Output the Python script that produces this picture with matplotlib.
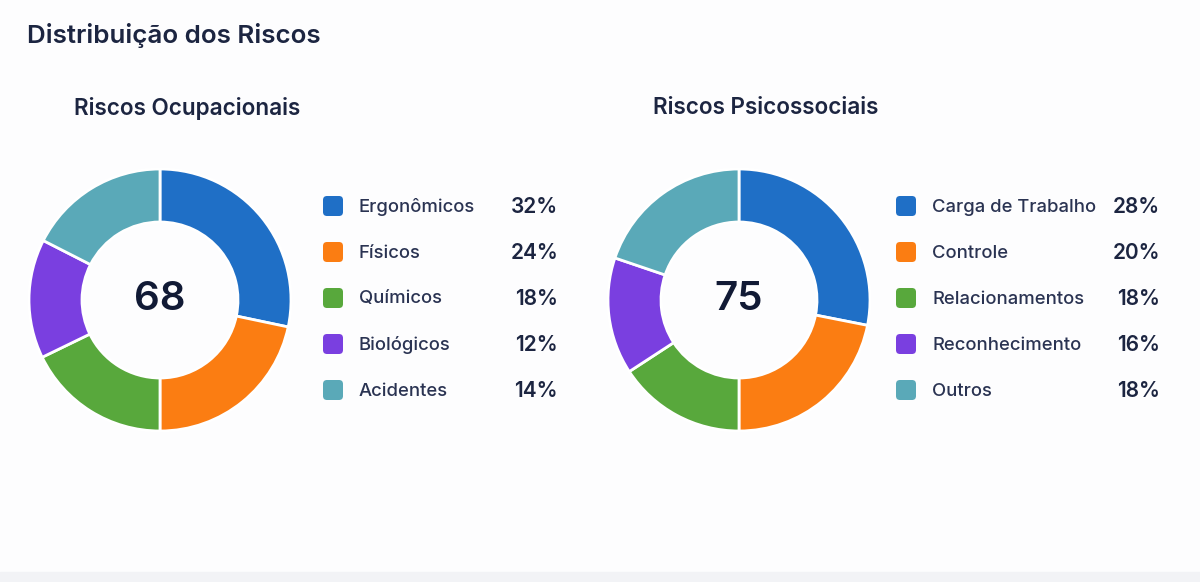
import matplotlib
matplotlib.use("Agg")
import matplotlib.pyplot as plt
from matplotlib.patches import FancyBboxPatch, Rectangle

plt.rcParams['font.family'] = ['Inter', 'DejaVu Sans']

# dados
titulo = "Distribuição dos Riscos"

ocup_titulo = "Riscos Ocupacionais"
ocup_total = 68
ocup_cats = ["Ergonômicos", "Físicos", "Químicos", "Biológicos", "Acidentes"]
ocup_pct = [32, 24, 18, 12, 14]
# tamanho das fatias como aparecem no desenho
ocup_fatias = [28.3, 21.7, 17.8, 14.7, 17.5]

psico_titulo = "Riscos Psicossociais"
psico_total = 75
psico_cats = ["Carga de Trabalho", "Controle", "Relacionamentos", "Reconhecimento", "Outros"]
psico_pct = [28, 20, 18, 16, 18]
psico_fatias = [28.1, 21.9, 15.8, 14.4, 19.8]

cores = ["#1f6fc6", "#fb7d12", "#58a83c", "#7a3fe0", "#5aa9b8"]
texto = "#1c2541"

W, H = 1200, 582

fig = plt.figure(figsize=(12, 5.82), dpi=100)
fig.patch.set_facecolor("#fdfdfe")
ax = fig.add_axes([0, 0, 1, 1])
ax.set_xlim(0, W)
ax.set_ylim(0, H)
ax.set_aspect("equal")
ax.axis("off")

# faixa cinza no rodape (sombra do cartao)
ax.add_patch(Rectangle((0, 0), W, 10, color="#f2f3f6", zorder=0))

ax.text(27, H - 36, titulo, fontsize=18.7, fontweight="semibold", color=texto,
        ha="left", va="center")


def painel(cx, titulo_p, total, cats, pct, fatias, leg_x, pct_x):
    cy = H - 300
    ax.text(cx + 27, H - 108, titulo_p, fontsize=16.2, fontweight="semibold",
            color=texto, ha="center", va="center")
    ax.pie(fatias, colors=cores, startangle=90, counterclock=False,
           center=(cx, cy), radius=131, frame=True,
           wedgeprops=dict(width=53, edgecolor="white", linewidth=2))
    ax.text(cx, cy, str(total), fontsize=29, fontweight="semibold",
            color="#111a35", ha="center", va="center")
    for i, (c, p) in enumerate(zip(cats, pct)):
        y = H - (206 + 46 * i)
        ax.add_patch(FancyBboxPatch((leg_x - 8, y - 8), 16, 16,
                                    boxstyle="round,pad=2,rounding_size=4",
                                    facecolor=cores[i], edgecolor="none"))
        ax.text(leg_x + 26, y - 1, c, fontsize=13.3, fontweight="medium",
                color="#2a3352", ha="left", va="center")
        ax.text(pct_x, y - 1, f"{p}%", fontsize=15, fontweight="semibold",
                color=texto, ha="right", va="center")


painel(160, ocup_titulo, ocup_total, ocup_cats, ocup_pct, ocup_fatias, 333, 558)
painel(739, psico_titulo, psico_total, psico_cats, psico_pct, psico_fatias, 906, 1160)

ax.set_xlim(0, W)
ax.set_ylim(0, H)
ax.axis("off")

fig.savefig("out.png", dpi=100, facecolor=fig.get_facecolor())
